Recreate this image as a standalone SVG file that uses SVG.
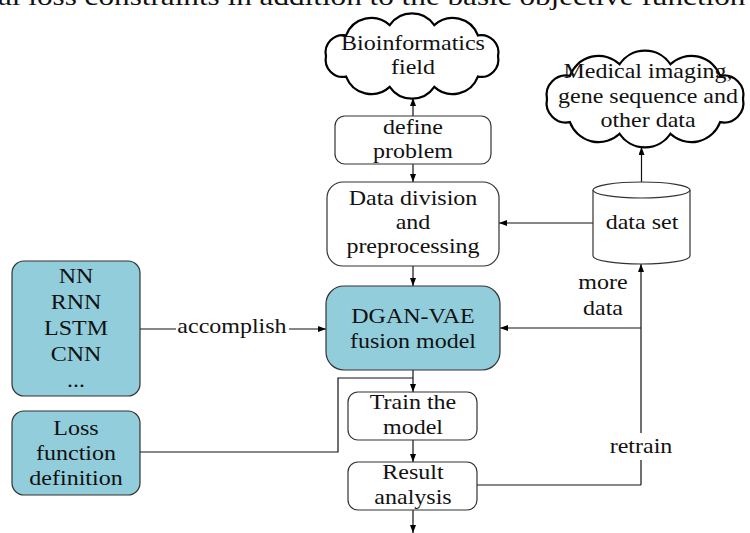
<svg xmlns="http://www.w3.org/2000/svg" width="750" height="533" viewBox="0 0 750 533">
<style>
.t{font-family:"Liberation Serif","Times New Roman",serif;font-size:20px;fill:#111;text-anchor:middle}
.box{fill:#fff;stroke:#333;stroke-width:1.2}
.blue{fill:#92CDDC;stroke:#333;stroke-width:1.2}
.cloud{fill:#fff;stroke:#000;stroke-width:2.2}
.ln{fill:none;stroke:#111;stroke-width:1.2}
.ar{marker-end:url(#ah)}
</style>
<defs>
<marker id="ah" markerWidth="8" markerHeight="6" refX="8" refY="3" orient="auto" markerUnits="userSpaceOnUse">
<path d="M0,0 L8,3 L0,6 Z" fill="#000"/>
</marker>
</defs>
<rect width="750" height="533" fill="#fff"/>
<text class="t" style="text-anchor:start;font-size:26px" transform="translate(-2,5) scale(1.2,1)">al loss constraints in addition to the basic objective function</text>

<g id="connectors">
<line class="ln ar" x1="413" y1="116" x2="413" y2="98"/>
<line class="ln ar" x1="413" y1="164" x2="413" y2="182"/>
<line class="ln ar" x1="413" y1="266" x2="413" y2="286"/>
<line class="ln ar" x1="593" y1="223" x2="499" y2="223"/>
<line class="ln ar" x1="641.5" y1="182" x2="641.5" y2="147"/>
<line class="ln" x1="641" y1="485" x2="641" y2="460"/>
<line class="ln ar" x1="641" y1="433" x2="641" y2="264"/>
<line class="ln ar" x1="641" y1="328" x2="500" y2="328"/>
<line class="ln" x1="477" y1="485" x2="641" y2="485"/>
<line class="ln" x1="140" y1="329" x2="176" y2="329"/>
<line class="ln ar" x1="289" y1="329" x2="326" y2="329"/>
<line class="ln ar" x1="413" y1="370" x2="413" y2="392"/>
<polyline class="ln" points="140,452 338,452 338,378 413,378"/>
<line class="ln ar" x1="413" y1="440" x2="413" y2="462"/>
<line class="ln ar" x1="413" y1="510" x2="413" y2="533"/>
<text class="t" transform="translate(232,333) scale(1.2,1)">accomplish</text>
<text class="t" transform="translate(603,0) scale(1.2,1)"><tspan x="0" y="289">more</tspan><tspan x="0" y="315">data</tspan></text>
<text class="t" transform="translate(641,453) scale(1.2,1)">retrain</text>
</g>

<g id="bio">
<path class="cloud" d="M498,56 A17.3,17.3 0 0 1 477.9,76.6 A27,27 0 0 1 434.3,86.9 A27,27 0 0 1 389.7,86.9 A27,27 0 0 1 346.1,76.6 A17.3,17.3 0 0 1 326,56 A17.3,17.3 0 0 1 346.1,35.4 A27,27 0 0 1 389.7,25.1 A27,27 0 0 1 434.3,25.1 A27,27 0 0 1 477.9,35.4 A17.3,17.3 0 0 1 498,56 Z"/>
<text class="t" transform="translate(413,0) scale(1.2,1)"><tspan x="0" y="50">Bioinformatics</tspan><tspan x="0" y="74">field</tspan></text>
</g>

<g id="medical">
<path class="cloud" d="M743,99 A19.5,19.5 0 0 1 720.1,122.1 A30.6,30.6 0 0 1 670.4,133.8 A30.6,30.6 0 0 1 619.6,133.8 A30.6,30.6 0 0 1 569.9,122.1 A19.5,19.5 0 0 1 547,99 A19.5,19.5 0 0 1 569.9,75.9 A30.6,30.6 0 0 1 619.6,64.2 A30.6,30.6 0 0 1 670.4,64.2 A30.6,30.6 0 0 1 720.1,75.9 A19.5,19.5 0 0 1 743,99 Z"/>
<text class="t" transform="translate(648,0) scale(1.2,1)"><tspan x="0" y="78">Medical imaging,</tspan><tspan x="0" y="103">gene sequence and</tspan><tspan x="0" y="127">other data</tspan></text>
</g>

<g id="define">
<rect class="box" x="335" y="116" width="156" height="48" rx="10"/>
<text class="t" transform="translate(413,0) scale(1.2,1)"><tspan x="0" y="134">define</tspan><tspan x="0" y="158">problem</tspan></text>
</g>

<g id="division">
<rect class="box" x="327" y="182" width="172" height="84" rx="16"/>
<text class="t" transform="translate(413,0) scale(1.2,1)"><tspan x="0" y="205">Data division</tspan><tspan x="0" y="229">and</tspan><tspan x="0" y="253">preprocessing</tspan></text>
</g>

<g id="dataset">
<path class="box" d="M593,190 L593,256 A48.5,8 0 0 0 690,256 L690,190"/>
<ellipse class="box" cx="641.5" cy="190" rx="48.5" ry="8"/>
<text class="t" transform="translate(642,229) scale(1.2,1)">data set</text>
</g>

<g id="dgan">
<rect class="blue" x="326" y="286" width="174" height="84" rx="18"/>
<text class="t" transform="translate(413,0) scale(1.2,1)"><tspan x="0" y="323">DGAN-VAE</tspan><tspan x="0" y="348">fusion model</tspan></text>
</g>

<g id="train">
<rect class="box" x="348" y="392" width="129" height="48" rx="10"/>
<text class="t" transform="translate(413,0) scale(1.2,1)"><tspan x="0" y="409">Train the</tspan><tspan x="0" y="434">model</tspan></text>
</g>

<g id="result">
<rect class="box" x="348" y="462" width="129" height="48" rx="10"/>
<text class="t" transform="translate(413,0) scale(1.2,1)"><tspan x="0" y="479">Result</tspan><tspan x="0" y="504">analysis</tspan></text>
</g>

<g id="nn">
<rect class="blue" x="12" y="261" width="128" height="135" rx="12"/>
<text class="t" transform="translate(76,0) scale(1.2,1)"><tspan x="0" y="283">NN</tspan><tspan x="0" y="309">RNN</tspan><tspan x="0" y="335">LSTM</tspan><tspan x="0" y="361">CNN</tspan><tspan x="0" y="387">...</tspan></text>
</g>

<g id="loss">
<rect class="blue" x="12" y="411" width="128" height="84" rx="12"/>
<text class="t" transform="translate(76,0) scale(1.2,1)"><tspan x="0" y="435">Loss</tspan><tspan x="0" y="460">function</tspan><tspan x="0" y="485">definition</tspan></text>
</g>
</svg>
